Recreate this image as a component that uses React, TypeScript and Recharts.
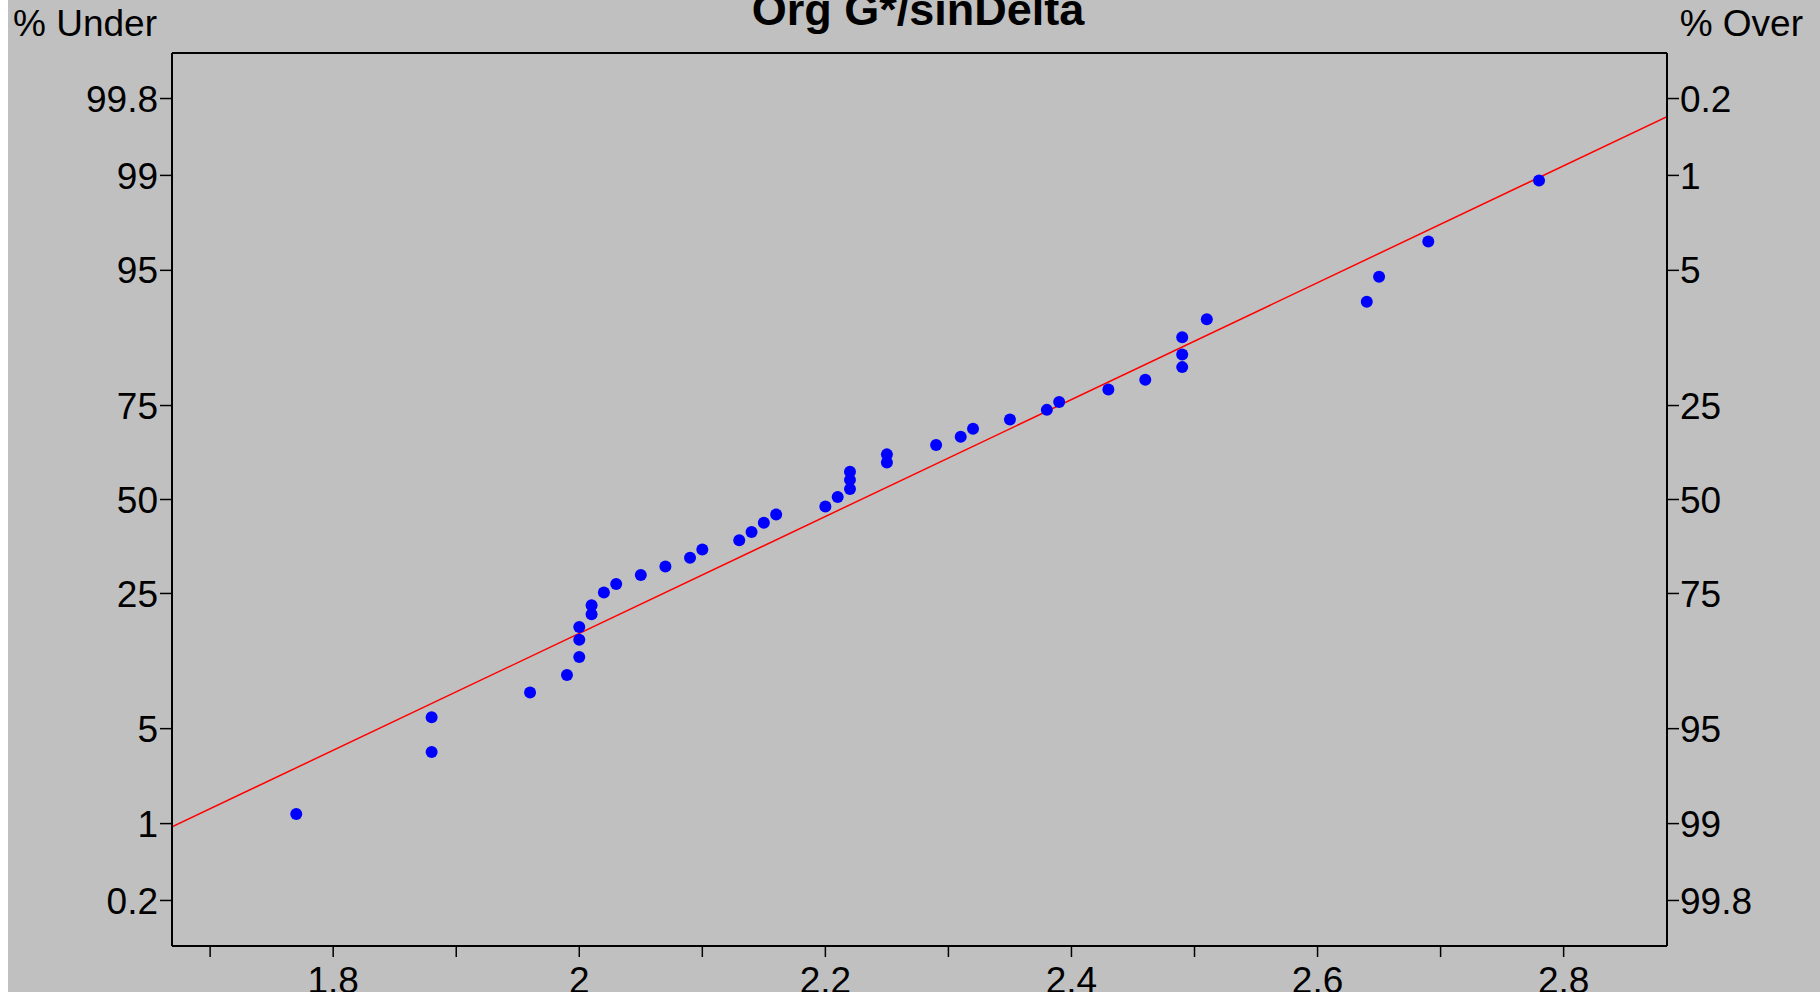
import { ComposedChart, Line, ReferenceLine, Scatter, XAxis, YAxis } from "recharts";

// sorted measurements and their plotting positions (% under)
const xValues = [
  1.77, 1.88, 1.88, 1.96, 1.99, 2.0, 2.0, 2.0, 2.01, 2.01, 2.02, 2.03, 2.05, 2.07,
  2.09, 2.1, 2.13, 2.14, 2.15, 2.16, 2.2, 2.21, 2.22, 2.22, 2.22, 2.25, 2.25, 2.29,
  2.31, 2.32, 2.35, 2.38, 2.39, 2.43, 2.46, 2.49, 2.49, 2.49, 2.51, 2.64, 2.65, 2.69,
  2.78,
];
const pctUnder = [
  1.2, 3.5, 5.9, 8.3, 10.4, 12.9, 15.7, 18.0, 20.5, 22.4, 25.2, 27.2, 29.4, 31.5,
  33.8, 36.0, 38.5, 40.8, 43.4, 45.7, 48.0, 50.7, 53.0, 55.6, 57.9, 60.5, 62.7, 65.2,
  67.4, 69.4, 71.7, 74.0, 75.8, 78.5, 80.5, 82.9, 85.1, 87.8, 90.2, 92.2, 94.5, 96.8,
  98.9,
];

// fitted normal line, ends at the plot edges
const fitX = [1.669, 2.884];
const fitPct = [0.94, 99.7];

const underTicks = [0.2, 1, 5, 25, 50, 75, 95, 99, 99.8];
const underLabels = ["0.2", "1", "5", "25", "50", "75", "95", "99", "99.8"];
const overLabels = ["99.8", "99", "95", "75", "50", "25", "5", "1", "0.2"];
const xTicks = [1.7, 1.8, 1.9, 2.0, 2.1, 2.2, 2.3, 2.4, 2.5, 2.6, 2.7, 2.8];

// inverse normal cdf (Acklam) -> probability paper scale
const probit = (p: number) => {
  const a = [-39.69683028665376, 220.9460984245205, -275.9285104469687, 138.357751867269, -30.66479806614716, 2.506628277459239];
  const b = [-54.47609879822406, 161.5858368580409, -155.6989798598866, 66.80131188771972, -13.28068155288572];
  const c = [-0.007784894002430293, -0.3223964580411365, -2.400758277161838, -2.549732539343734, 4.374664141464968, 2.938163982698783];
  const d = [0.007784695709041462, 0.3224671290700398, 2.445134137142996, 3.754408661907416];
  const lo = 0.02425;
  if (p < lo) {
    const q = Math.sqrt(-2 * Math.log(p));
    return (((((c[0] * q + c[1]) * q + c[2]) * q + c[3]) * q + c[4]) * q + c[5]) /
      ((((d[0] * q + d[1]) * q + d[2]) * q + d[3]) * q + 1);
  }
  if (p <= 1 - lo) {
    const q = p - 0.5;
    const r = q * q;
    return ((((((a[0] * r + a[1]) * r + a[2]) * r + a[3]) * r + a[4]) * r + a[5]) * q) /
      (((((b[0] * r + b[1]) * r + b[2]) * r + b[3]) * r + b[4]) * r + 1);
  }
  const q = Math.sqrt(-2 * Math.log(1 - p));
  return -(((((c[0] * q + c[1]) * q + c[2]) * q + c[3]) * q + c[4]) * q + c[5]) /
    ((((d[0] * q + d[1]) * q + d[2]) * q + d[3]) * q + 1);
};

const points = xValues.map((x, i) => ({ x, z: probit(pctUnder[i] / 100) }));
const fitData = fitX.map((x, i) => ({ x, z: probit(fitPct[i] / 100) }));
const yTicks = underTicks.map((p) => probit(p / 100));

const Z_MAX = 3.205;
const FONT = "'Liberation Sans', Arial, sans-serif";
const tickStyle = { fill: "#000", fontSize: 37, fontFamily: FONT };

const Dot = (props: any) => <circle cx={props.cx} cy={props.cy} r={6} fill="#0000ff" />;

const App = () => {
  return (
    <div style={{ position: "absolute", top: 0, left: 8, width: 1812, height: 992, background: "#c0c0c0", overflow: "hidden" }}>
      <ComposedChart width={1812} height={992} margin={{ top: 53, right: 0, bottom: 0, left: 0 }}>
        <XAxis
          xAxisId="bottom"
          dataKey="x"
          type="number"
          domain={[1.669, 2.884]}
          allowDataOverflow
          ticks={xTicks}
          tickFormatter={(v: number) => (Math.round(v * 10) % 2 === 0 ? String(Number(v.toFixed(1))) : "")}
          height={46}
          tickSize={11}
          tickMargin={10}
          tick={tickStyle}
          axisLine={{ stroke: "#000", strokeWidth: 2 }}
          tickLine={{ stroke: "#000", strokeWidth: 1.5 }}
        />
        <YAxis
          yAxisId="left"
          dataKey="z"
          type="number"
          domain={[-Z_MAX, Z_MAX]}
          allowDataOverflow
          ticks={yTicks}
          tickFormatter={(_v: number, i: number) => underLabels[i]}
          width={164}
          tickSize={12}
          tickMargin={2}
          tick={tickStyle}
          axisLine={{ stroke: "#000", strokeWidth: 2 }}
          tickLine={{ stroke: "#000", strokeWidth: 1.5 }}
        />
        <YAxis
          yAxisId="right"
          orientation="right"
          type="number"
          domain={[-Z_MAX, Z_MAX]}
          allowDataOverflow
          ticks={yTicks}
          tickFormatter={(_v: number, i: number) => overLabels[i]}
          width={153}
          tickSize={12}
          tickMargin={1}
          tick={tickStyle}
          axisLine={{ stroke: "#000", strokeWidth: 2 }}
          tickLine={{ stroke: "#000", strokeWidth: 1.5 }}
        />
        {/* top edge of the frame */}
        <ReferenceLine xAxisId="bottom" yAxisId="left" y={Z_MAX} stroke="#000" strokeWidth={2} />
        <Line
          xAxisId="bottom"
          yAxisId="left"
          data={fitData}
          dataKey="z"
          type="linear"
          stroke="#ff0000"
          strokeWidth={1.5}
          dot={false}
          isAnimationActive={false}
        />
        <Scatter
          xAxisId="bottom"
          yAxisId="left"
          data={points}
          dataKey="z"
          shape={Dot}
          isAnimationActive={false}
        />
      </ComposedChart>
      <svg width={1812} height={992} style={{ position: "absolute", top: 0, left: 0, pointerEvents: "none" }}>
        <text x={5} y={36} fontSize={37} fontFamily={FONT} fill="#000">% Under</text>
        <text x={1795} y={36} fontSize={37} fontFamily={FONT} fill="#000" textAnchor="end">% Over</text>
        <text x={910} y={25} fontSize={45} fontWeight="bold" fontFamily={FONT} fill="#000" textAnchor="middle">
          Org G*/sinDelta
        </text>
      </svg>
    </div>
  );
};

export default App;
